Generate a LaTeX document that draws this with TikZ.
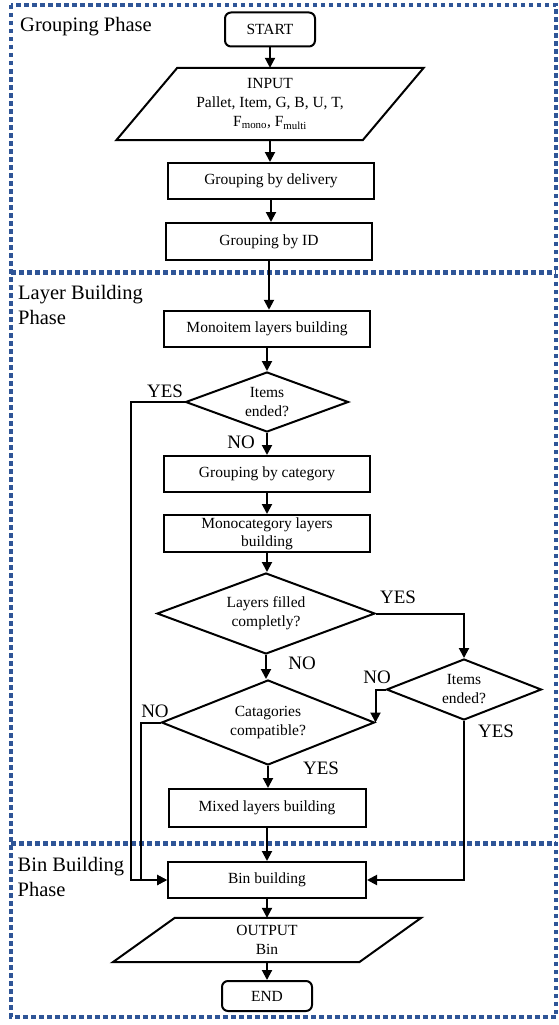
\documentclass[tikz,border=0pt]{standalone}
\usepackage{fontspec}
\setmainfont{Liberation Serif}
\usetikzlibrary{shapes.geometric,arrows.meta,calc}
\definecolor{phaseblue}{HTML}{2F5597}
\begin{document}
\begin{tikzpicture}[x=1pt,y=-1pt,
  every node/.style={inner sep=0pt},
  boxtext/.style={font=\fontsize{15.5}{19}\selectfont, align=center},
  procbox/.style={boxtext, draw, line width=2pt, minimum width=206pt, minimum height=36pt},
  termbox/.style={boxtext, draw, line width=2pt, rounded corners=6pt, minimum width=90pt, minimum height=34pt},
  decision/.style={boxtext, draw, line width=2pt, diamond, shape aspect=2.6},
  iobox/.style={boxtext},
  flow/.style={line width=2pt, -{Triangle[length=10pt,width=10pt]}},
  plain/.style={line width=2pt},
  answer/.style={font=\fontsize{19}{22}\selectfont},
  phase/.style={font=\fontsize{20.5}{24.5}\selectfont, align=left, anchor=north west},
  border/.style={draw=phaseblue, line width=4.5pt, dash pattern=on 4.5pt off 3.5pt}
]
\useasboundingbox (0,0) rectangle (558,1025);

% phase frames
\draw[border] (11,5) rectangle (556,1017);
\draw[border] (11,272.5) -- (556,272.5);
\draw[border] (11,843.5) -- (556,843.5);

\node[phase] (pgroup) at (20,17) {Grouping Phase};
\node[phase] (player) at (18,285.5) {Layer Building\\Phase};
\node[phase] (pbin) at (17.5,857.5) {Bin Building\\Phase};

% nodes
\node[termbox] (start) at (270,29.5) {START};
\node[iobox, minimum width=307pt, minimum height=72pt] (input) at (270,104)
  {INPUT\\Pallet, Item, G, B, U, T,\\F\textsubscript{mono}, F\textsubscript{multi}};
\node[procbox] (deliv) at (271,181) {Grouping by delivery};
\node[procbox, minimum height=37pt] (gid) at (269,241.5) {Grouping by ID};
\node[procbox, minimum height=36.5pt] (mono) at (267,329) {Monoitem layers building};
\node[decision, minimum width=163pt, minimum height=60pt] (d1) at (267,402) {Items\\ended?};
\node[procbox] (gcat) at (267,474) {Grouping by category};
\node[procbox, minimum height=37pt, font=\fontsize{15.5}{18}\selectfont] (mcat) at (267,533.5) {Monocategory layers\\building};
\node[decision, minimum width=218pt, minimum height=81pt] (d2) at (266,613.5) {Layers filled\\completly?};
\node[decision, minimum width=155pt, minimum height=61pt] (d3) at (464,689.5) {Items\\ended?};
\node[decision, minimum width=213pt, minimum height=85pt] (d4) at (268,722.5) {Catagories\\compatible?};
\node[procbox, minimum width=197pt, minimum height=38pt] (mixed) at (267,808) {Mixed layers building};
\node[procbox, minimum width=198pt] (bin) at (267,880) {Bin building};
\node[iobox, minimum width=308pt, minimum height=44pt] (output) at (267,940) {OUTPUT\\Bin};
\node[termbox, minimum height=30pt] (end) at (267,996) {END};

% parallelograms
\draw[plain] ($(input.north west)+(61,0)$) -- (input.north east)
  -- ($(input.south east)+(-61,0)$) -- (input.south west) -- cycle;
\draw[plain] ($(output.north west)+(62,0)$) -- (output.north east)
  -- ($(output.south east)+(-62,0)$) -- (output.south west) -- cycle;

% main flow
\draw[flow] (start.south) -- (start.south |- input.north);
\draw[flow] (input.south) -- (input.south |- deliv.north);
\draw[flow] (deliv.south) -- (deliv.south |- gid.north);
\draw[flow] (gid.south) -- (gid.south |- mono.north);
\draw[flow] (mono.south) -- (mono.south |- d1.north);
\draw[flow] (d1.south) -- (d1.south |- gcat.north);
\draw[flow] (gcat.south) -- (gcat.south |- mcat.north);
\draw[flow] (mcat.south) -- (mcat.south |- d2.north);
\draw[flow] (d2.south) -- (d2.south |- d4.north);
\draw[flow] (d4.south) -- (d4.south |- mixed.north);
\draw[flow] (mixed.south) -- (mixed.south |- bin.north);
\draw[flow] (bin.south) -- (bin.south |- output.north);
\draw[flow] (output.south) -- (output.south |- end.north);

% side branches
\draw[flow] (d1.west) -| ($(bin.west)+(-36,0)$) -- (bin.west);
\draw[flow] (d4.west) -| ($(bin.west)+(-26,0)$) -- (bin.west);
\draw[flow] (d2.east) -| (d3.north);
\draw[flow] (d3.west) -| (d4.east);
\draw[flow] (d3.south) |- (bin.east);

% answers
\node[answer] (yes1) at (165,391) {YES};
\node[answer] (no1) at (241,442) {NO};
\node[answer] (yes2) at (398,597) {YES};
\node[answer] (no2) at (302,663) {NO};
\node[answer] (no3) at (377,677) {NO};
\node[answer] (yes3) at (496,731) {YES};
\node[answer] (no4) at (155,711) {NO};
\node[answer] (yes4) at (321,768) {YES};
\end{tikzpicture}
\end{document}
